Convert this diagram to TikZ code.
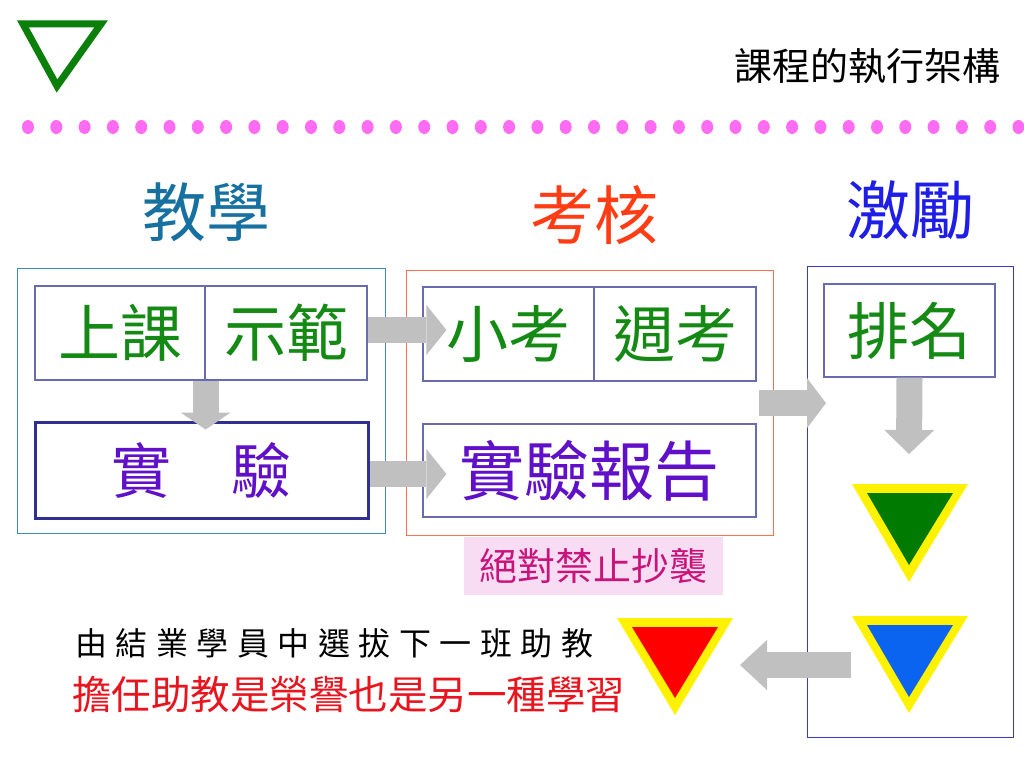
\documentclass[tikz,border=0pt]{standalone}
\usepackage{fontspec}
\setmainfont{Noto Sans CJK TC}
\usetikzlibrary{arrows.meta}
\definecolor{tealt}{HTML}{1670A0}
\definecolor{oranget}{HTML}{FF3C14}
\definecolor{bluet}{HTML}{1E1EE6}
\definecolor{tealbox}{HTML}{3C8CB4}
\definecolor{orangebox}{HTML}{FF7050}
\definecolor{bluebox}{HTML}{3A3AC8}
\definecolor{cellc}{HTML}{6A6AB0}
\definecolor{expc}{HTML}{303090}
\definecolor{greenc}{HTML}{148A14}
\definecolor{purplec}{HTML}{6010C8}
\definecolor{pinkbg}{HTML}{F8DCF4}
\definecolor{magc}{HTML}{C8147A}
\definecolor{dotc}{HTML}{FF6CF4}
\definecolor{arrowc}{HTML}{C0C0C0}
\definecolor{trigreen}{HTML}{007A00}
\definecolor{triblue}{HTML}{0A64F0}
\definecolor{redt}{HTML}{E8141E}
\definecolor{topgreen}{HTML}{0A800A}
\begin{document}
\begin{tikzpicture}[x=1pt,y=-1pt,
  grp/.style={line width=1.2pt, inner sep=0pt, anchor=north west},
  cell/.style={draw=cellc, line width=1.2pt, minimum height=94pt, inner sep=0pt,
    font=\fontsize{62}{62}\selectfont, text=greenc},
  hdr/.style={inner sep=0pt, font=\fontsize{64}{64}\selectfont},
  barrow/.style={draw=arrowc, line width=26pt,
    -{Triangle[length=#1,width=50pt,line width=0pt]}},
  barrow/.default=20pt]
\useasboundingbox (0,0) rectangle (1024,768);
\fill[white] (0,0) rectangle (1024,768);
% top-left outline triangle
\draw[topgreen, line width=7pt, line join=miter] (23,24) -- (101,24) -- (57,86) -- cycle;
% title
\node[anchor=east, inner sep=0pt, font=\fontsize{38}{38}\selectfont] (title) at (1001,66) {課程的執行架構};
% dotted rule
\foreach \i in {0,...,35} \fill[dotc] (28+28.3*\i,127) ellipse (6 and 7);
% headers
\node[hdr, text=tealt] (h1) at (206,212) {教學};
\node[hdr, text=oranget] (h2) at (594,215) {考核};
\node[hdr, text=bluet] (h3) at (910,210) {激勵};
% group boxes
\node[grp, draw=tealbox, minimum width=368pt, minimum height=265pt] (gL) at (17,268) {};
\node[grp, draw=orangebox, minimum width=367pt, minimum height=265pt] (gM) at (406,270) {};
\node[grp, draw=bluebox, minimum width=206pt, minimum height=471pt] (gR) at (807,266) {};
% cells
\node[cell, minimum width=170pt] (c1) at (120,333) {上課};
\node[cell, minimum width=162pt] (c2) at (286,333) {示範};
\node[cell, minimum width=171pt] (c3) at (508.5,334) {小考};
\node[cell, minimum width=162pt] (c4) at (675,334) {週考};
\node[cell, minimum width=333pt, minimum height=96pt, draw=expc, line width=3pt,
  text=purplec, font=\fontsize{60}{60}\selectfont] (exp) at (201.5,470) {實　驗};
\node[cell, minimum width=333pt, minimum height=93pt, text=purplec,
  font=\fontsize{65}{65}\selectfont] (rep) at (589.5,470.5) {實驗報告};
\node[cell, minimum width=171pt, minimum height=93pt] (rank) at (909.5,330.5) {排名};
% warning
\node[fill=pinkbg, text=magc, minimum width=259pt, minimum height=58pt, inner sep=0pt,
  font=\fontsize{38}{38}\selectfont] (warn) at (593.5,566) {絕對禁止抄襲};
% triangles
\fill[yellow] (852,484) -- (968,484) -- (909,582) -- cycle;
\fill[trigreen] (867,493) -- (953,493) -- (909,565) -- cycle;
\fill[yellow] (852,616) -- (968,616) -- (909,713) -- cycle;
\fill[triblue] (867,625) -- (953,625) -- (909,697) -- cycle;
\fill[yellow] (617,618) -- (733,618) -- (675,715) -- cycle;
\fill[red] (632,627) -- (718,627) -- (675,698) -- cycle;
% arrow end points
\coordinate (a1e) at ([yshift=-9pt]c1.south east |- exp.north);
\coordinate (a2s) at ([yshift=3pt]c2.east);
\coordinate (a2e) at ([xshift=24pt]c3.west |- a2s);
\coordinate (a3s) at ([yshift=-4pt]exp.east);
\coordinate (a3e) at ([xshift=24pt]rep.west |- a3s);
\coordinate (a4s) at ([xshift=-15pt]gM.east);
\coordinate (a4e) at ([xshift=19pt]gR.west |- a4s);
\coordinate (a5e) at (909,454);
\coordinate (a6s) at (851,665);
\coordinate (a6e) at (740,665);
% arrows
\draw[barrow=17pt] (c1.south east) -- (a1e);
\draw[barrow] (a2s) -- (a2e);
\draw[barrow] (a3s) -- (a3e);
\draw[barrow=19pt] (a4s) -- (a4e);
\draw[barrow=24pt] (rank.south) -- (a5e);
\draw[barrow=27pt] (a6s) -- (a6e);
% bottom texts
\node[anchor=west, inner sep=0pt, font=\fontsize{32}{32}\selectfont] (t1) at (75,643)
  {由\kern8.5pt 結\kern8.5pt 業\kern8.5pt 學\kern8.5pt 員\kern8.5pt 中\kern8.5pt 選\kern8.5pt 拔\kern8.5pt 下\kern8.5pt 一\kern8.5pt 班\kern8.5pt 助\kern8.5pt 教};
\node[anchor=west, inner sep=0pt, text=redt, font=\fontsize{39.5}{39.5}\selectfont] (t2) at (72,695)
  {擔任助教是榮譽也是另一種學習};
\end{tikzpicture}
\end{document}
